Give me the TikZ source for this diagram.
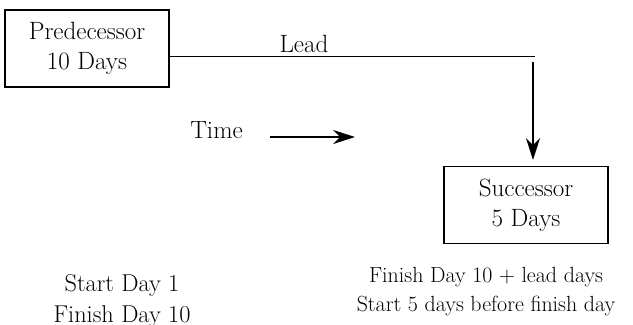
\documentclass[tikz,border=0pt]{standalone}
\usetikzlibrary{arrows.meta}
\begin{document}
\begin{tikzpicture}[scale=0.25]
\tikzstyle{every node}+=[inner sep=0pt]
\tikzstyle{taskbox}=[draw=black,line width=0.9pt,minimum width=4.1cm,minimum height=1.925cm,align=center,font=\fontsize{17.8}{21.3}\selectfont]
\tikzstyle{bigtext}=[font=\fontsize{17.8}{21.3}\selectfont]
\tikzstyle{bigarrow}=[black,-{Stealth[length=15.6pt,width=10pt,inset=5pt]}]
\useasboundingbox (0,0) rectangle (63.3,-32.5);
\node [taskbox] (pred) at (8.7,-4.85) {Predecessor\\10 Days};
\node [taskbox] (succ) at (52.6,-20.5) {Successor\\5 Days};
\node [bigtext,anchor=base] (lead) at (30.4,-5.3) {Lead};
\node [bigtext,anchor=base] (time) at (21.65,-13.9) {Time};
\node [align=center,font=\fontsize{17.3}{22}\selectfont] (predtimes) at (12.2,-30.06) {Start Day 1\\Finish Day 10};
\node [align=center,font=\fontsize{15.6}{20.6}\selectfont] (succtimes) at (48.6,-29.2) {Finish Day 10 + lead days\\Start 5 days before finish day};
\coordinate (bend) at (53.5,-5.6);
\coordinate (drop) at (53.3,-6.2);
\coordinate (tip) at (53.3,-16.0);
\coordinate (timestart) at (27.0,-13.7);
\coordinate (timeend) at (35.5,-13.7);
\draw [black,line width=0.7pt] (pred.east |- bend) -- (bend);
\draw [bigarrow,line width=1.4pt] (drop) -- (tip);
\draw [bigarrow,line width=1.6pt] (timestart) -- (timeend);
\end{tikzpicture}
\end{document}
